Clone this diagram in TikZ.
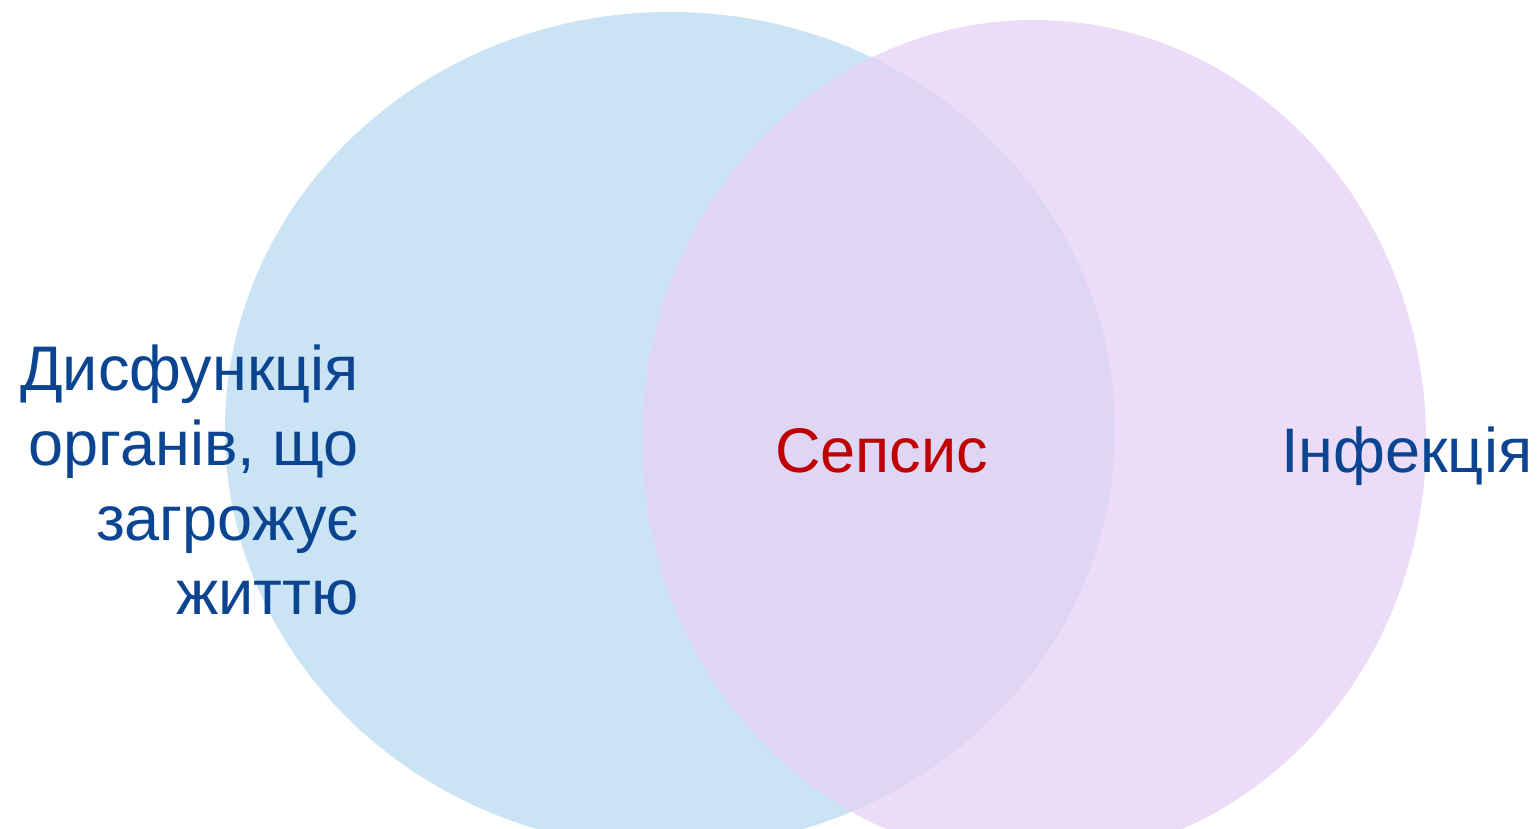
\documentclass[tikz,border=0pt]{standalone}
\usepackage{fontspec}
\setmainfont{Liberation Sans}
\definecolor{setA}{HTML}{CBE4F5}
\definecolor{setB}{HTML}{EDDCF8}
\definecolor{setAB}{HTML}{DFD5F4}
\definecolor{lbl}{HTML}{0B4591}
\definecolor{sep}{HTML}{C00000}
\begin{document}
\begin{tikzpicture}[x=1pt,y=-1pt,
  lab/.style={inner sep=0pt,font=\fontsize{63}{75}\selectfont,text=lbl},
  mid/.style={inner sep=0pt,font=\fontsize{63}{75}\selectfont,text=sep}]
\useasboundingbox[fill=white] (0,0) rectangle (1538,829);
\begin{scope}
\clip (0,0) rectangle (1538,829);
\fill[setA] (670,430) ellipse [x radius=445pt, y radius=418pt];
\fill[setB] (1034,440) ellipse [x radius=392pt, y radius=420pt];
\begin{scope}
\clip (670,430) ellipse [x radius=445pt, y radius=418pt];
\fill[setAB] (1034,440) ellipse [x radius=392pt, y radius=420pt];
\end{scope}
\end{scope}
\node[lab,anchor=base east] (l1) at (359,390) {Дисфункція};
\node[lab,anchor=base east] (l2) at (359,465) {органів, що};
\node[lab,anchor=base east] (l3) at (359,540) {загрожує};
\node[lab,anchor=base east] (l4) at (359,614) {життю};
\node[mid,anchor=base west] (s) at (775,472) {Сепсис};
\node[lab,anchor=base west] (inf) at (1281,472) {Інфекція};
\end{tikzpicture}
\end{document}
